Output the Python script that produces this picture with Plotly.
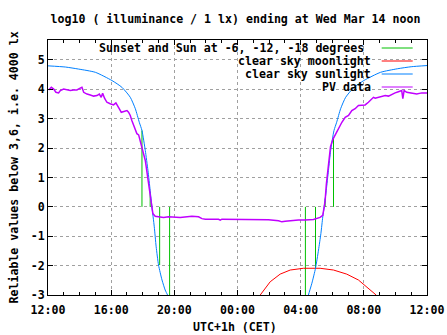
import pandas as pd
import plotly.graph_objects as go

# ---------------- data (hours after Tue Mar 13 12:00 CET) ----------------
start = pd.Timestamp("2018-03-13 12:00")

pv_hours = [0.04, 0.21, 0.36, 0.50, 0.67, 0.78, 0.99, 1.20, 1.41, 1.62, 1.83, 2.04, 2.15, 2.26,
            2.47, 2.68, 2.89, 3.10, 3.25, 3.37, 3.46, 3.58, 3.73, 3.94, 4.15, 4.30, 4.43, 4.51,
            4.64, 4.79, 5.00, 5.10, 5.21, 5.31, 5.42, 5.53, 5.63, 5.74, 5.84, 5.95, 6.05, 6.16,
            6.22, 6.31, 6.37, 6.43, 6.52, 6.58, 6.64, 6.79, 7.11, 7.32, 7.63, 8.27, 8.37, 9.11,
            9.53, 9.75, 9.96, 10.80, 10.91, 11.01, 12.49, 13.75, 13.96, 14.60, 14.81, 15.02,
            15.34, 15.86, 16.28, 16.81, 17.23, 17.40, 17.49, 17.55, 17.63, 17.73, 17.80, 17.89,
            18.04, 18.18, 18.39, 18.61, 18.82, 19.03, 19.24, 19.45, 19.66, 19.87, 20.08, 20.29,
            20.50, 20.61, 20.72, 20.93, 21.14, 21.35, 21.56, 21.77, 21.98, 22.19, 22.40, 22.47,
            22.55, 22.72, 23.04, 23.35, 23.67, 23.92, 24.0]
pv_values = [3.98, 4.07, 4.01, 3.90, 3.88, 3.96, 4.01, 3.98, 3.96, 3.98, 3.98, 4.04, 4.07, 3.90,
             3.84, 3.81, 3.77, 3.79, 3.84, 3.73, 3.87, 3.70, 3.56, 3.51, 3.47, 3.54, 3.39, 3.34,
             3.22, 3.25, 3.28, 3.22, 3.11, 2.94, 2.77, 2.57, 2.49, 2.45, 2.26, 2.03, 1.81, 1.58,
             1.36, 1.02, 0.68, 0.45, 0.22, 0.00, -0.23, -0.32, -0.34, -0.36, -0.34, -0.34, -0.36,
             -0.32, -0.34, -0.40, -0.42, -0.42, -0.45, -0.42, -0.42, -0.42, -0.44, -0.47, -0.51,
             -0.49, -0.47, -0.45, -0.45, -0.43, -0.36, -0.29, 0.00, 0.22, 0.79, 1.24, 1.69, 2.05,
             2.30, 2.45, 2.65, 2.88, 3.05, 3.11, 3.28, 3.34, 3.45, 3.47, 3.47, 3.56, 3.68, 3.73,
             3.70, 3.73, 3.77, 3.79, 3.77, 3.84, 3.88, 3.92, 3.96, 3.68, 3.96, 3.90, 3.88, 3.84,
             3.88, 3.88, 3.88]

sun_hours = [0.0, 1.1, 1.94, 3.0, 4.05, 4.68, 5.21, 5.53, 5.78, 5.95, 6.16, 6.33, 6.47, 6.58,
             6.73, 6.85, 7.0, 7.22, 7.42, 7.57, 7.75,
             16.30, 16.49, 16.71, 16.94, 17.13, 17.28, 17.40, 17.49, 17.62, 17.76, 17.90, 18.11,
             18.28, 18.53, 18.85, 19.38, 20.0, 21.06, 22.12, 23.0, 24.0]
sun_values = [4.80, 4.76, 4.69, 4.58, 4.30, 4.07, 3.73, 3.34, 2.88, 2.60, 1.92, 1.24, 0.56, 0.0,
              -0.68, -1.36, -1.98, -2.49, -2.83, -3.0, -3.3,
              -3.35, -3.0, -2.6, -2.09, -1.47, -0.91, -0.34, 0.0, 0.56, 1.24, 1.92, 2.60,
              2.88, 3.34, 3.73, 4.07, 4.30, 4.58, 4.70, 4.77, 4.81]

moon_hours = [13.44, 13.7, 14.07, 14.7, 15.34, 16.18, 17.23, 18.08, 18.92, 19.66, 20.19, 20.6, 20.78]
moon_values = [-3.0, -2.8, -2.55, -2.29, -2.15, -2.09, -2.09, -2.15, -2.29, -2.49, -2.72, -2.89, -3.0]

# sunset, sun at -6, -12, -18 deg (evening) and -18, -12, -6, sunrise (morning)
twilight_hours = [5.95, 6.47, 7.07, 7.70, 16.30, 16.94, 17.55, 18.08]
twilight_values = [2.60, 0.50, -1.98, -3.30, -3.30, -2.09, 0.28, 2.37]

y_ticks = [-3, -2, -1, 0, 1, 2, 3, 4, 5]
y_tick_labels = ["-3", "-2", "-1", "0", "1", "2", "3", "4", "5"]

legend_names = ["Sunset and Sun at -6, -12, -18 degrees", "clear sky moonlight",
                "clear sky sunlight", "PV data"]
legend_colors = ["#00c000", "#ff0000", "#0080ff", "#c000ff"]

title_text = "log10 ( illuminance / 1 lx) ending at Wed Mar 14 noon"
x_title = "UTC+1h (CET)"
y_title = "Reliable values below 3,6, i.e. 4000 lx"

assert len(pv_hours) == len(pv_values)
assert len(sun_hours) == len(sun_values)


def to_time(hours):
    return [start + pd.Timedelta(hours=h) for h in hours]


# ---------------- layout geometry (pixels) ----------------
W, H = 447, 335
L, R, T, B = 48, 427, 40, 295


def px2x(px):
    return (px - L) / (R - L)


def px2y(py):
    return (B - py) / (B - T)


FONT = dict(family="DejaVu Sans Mono", size=11.6, color="black", weight="bold")

fig = go.Figure()

# green twilight markers: vertical segments from 0 to sunlight level
gx, gy = [], []
for t, v in zip(to_time(twilight_hours), twilight_values):
    gx += [t, t, None]
    gy += [0, v, None]
fig.add_trace(go.Scatter(x=gx, y=gy, mode="lines", line=dict(color=legend_colors[0], width=1),
                         name=legend_names[0], showlegend=False))
fig.add_trace(go.Scatter(x=to_time(moon_hours), y=moon_values, mode="lines",
                         line=dict(color=legend_colors[1], width=1),
                         name=legend_names[1], showlegend=False))
fig.add_trace(go.Scatter(x=to_time(sun_hours), y=sun_values, mode="lines",
                         line=dict(color=legend_colors[2], width=1, shape="spline", smoothing=0.6),
                         name=legend_names[2], showlegend=False))
fig.add_trace(go.Scatter(x=to_time(pv_hours), y=pv_values, mode="lines",
                         line=dict(color=legend_colors[3], width=1.5),
                         name=legend_names[3], showlegend=False))

# opaque key box (covers grid only)
shapes = [dict(type="rect", xref="paper", yref="paper", x0=px2x(100), x1=1, y0=px2y(93.5), y1=1,
               fillcolor="white", line=dict(width=0), layer="between")]
annotations = []
rows_y = [48, 61, 74, 87]
text_right = [366, 373, 373, 373]
for name, col, ry, tr in zip(legend_names, legend_colors, rows_y, text_right):
    annotations.append(dict(text=name, xref="paper", yref="paper", x=px2x(tr), y=px2y(ry),
                            xanchor="right", yanchor="middle", showarrow=False, font=FONT))
    shapes.append(dict(type="line", xref="paper", yref="paper", x0=px2x(381.7), x1=px2x(412.7),
                       y0=px2y(ry), y1=px2y(ry), line=dict(color=col, width=1), layer="above"))

annotations.append(dict(text=x_title, xref="paper", yref="paper", x=px2x(235), y=px2y(327),
                        xanchor="center", yanchor="middle", showarrow=False, font=FONT))
annotations.append(dict(text=y_title, xref="paper", yref="paper", x=px2x(13), y=px2y(167.5),
                        xanchor="center", yanchor="middle", textangle=-90, showarrow=False,
                        font=FONT))

grid = dict(showgrid=True, gridcolor="#a0a0a0", gridwidth=1, griddash="3px,3px")

fig.update_layout(
    width=W, height=H, autosize=False,
    margin=dict(l=L, r=W - R, t=T, b=H - B, pad=0, autoexpand=False),
    paper_bgcolor="white", plot_bgcolor="white",
    title=dict(text=title_text, font=FONT, x=235.5 / W, xref="container", xanchor="center",
               y=1 - 19 / H, yref="container", yanchor="middle"),
    xaxis=dict(type="date", range=[start, start + pd.Timedelta(hours=24)],
               tickformat="%H:%M", dtick=4 * 3600000, tick0=start,
               ticks="inside", ticklen=5, tickcolor="black", tickwidth=1,
               showline=True, linecolor="black", linewidth=1, mirror="ticks",
               zeroline=False, tickfont=FONT, automargin=False, ticklabelstandoff=4,
               minor=dict(dtick=3600000, ticks="inside", ticklen=3, tickcolor="black",
                          showgrid=False),
               **grid),
    yaxis=dict(range=[-3, 5.68], tickmode="array", tickvals=y_ticks, ticktext=y_tick_labels,
               ticks="inside", ticklen=5, tickcolor="black", tickwidth=1,
               showline=True, linecolor="black", linewidth=1, mirror="ticks",
               zeroline=False, tickfont=FONT, automargin=False, **grid),
    shapes=shapes, annotations=annotations, showlegend=False,
)

fig.write_html("out.html")
